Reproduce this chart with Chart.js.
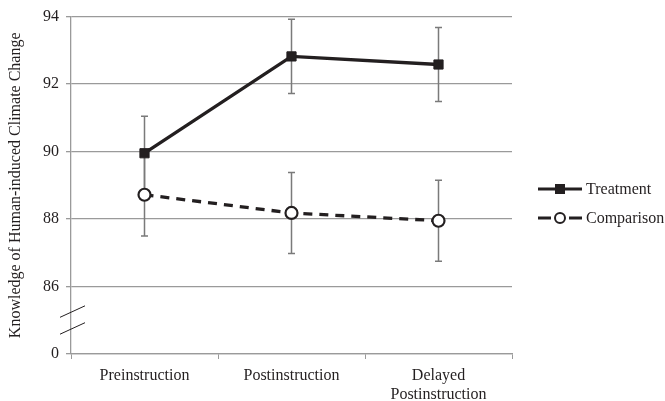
<!DOCTYPE html>
<html>
<head>
<meta charset="utf-8">
<script src="https://cdn.jsdelivr.net/npm/chart.js@4/dist/chart.umd.min.js"></script>
<style>
  html, body { margin: 0; padding: 0; background: #fff; }
  #wrap { width: 665px; height: 401px; }
</style>
</head>
<body>
<div id="wrap"><canvas id="myChart" width="665" height="401"></canvas></div>
<script>
(()=>{
  const categories = ['Preinstruction', 'Postinstruction', ['Delayed', 'Postinstruction']];
  const treatment = [89.95, 92.82, 92.58];
  const treatmentErr = [1.1, 1.1, 1.1];
  const comparison = [88.72, 88.18, 87.95];
  const comparisonErr = [1.22, 1.2, 1.2];
  const yTicks = [84, 86, 88, 90, 92, 94];
  const yTickLabels = ['0', '86', '88', '90', '92', '94'];
  const breakAt = 85;

  const font = "'Liberation Serif', 'Times New Roman', serif";
  const ink = '#231f20';
  const gray = '#9a9a9a';

  // error bars drawn under the markers
  const errorBars = {
    id: 'errorBars',
    beforeDatasetsDraw(chart) {
      const ctx = chart.ctx;
      const x = chart.scales.x, y = chart.scales.y;
      const sets = [[treatment, treatmentErr], [comparison, comparisonErr]];
      ctx.save();
      ctx.strokeStyle = '#7a7a7a';
      ctx.lineWidth = 1.5;
      sets.forEach(([vals, errs]) => {
        vals.forEach((v, i) => {
          const px = x.getPixelForValue(i);
          const top = y.getPixelForValue(v + errs[i]);
          const bot = y.getPixelForValue(v - errs[i]);
          ctx.beginPath();
          ctx.moveTo(px, top); ctx.lineTo(px, bot);
          ctx.moveTo(px - 3.5, top); ctx.lineTo(px + 3.5, top);
          ctx.moveTo(px - 3.5, bot); ctx.lineTo(px + 3.5, bot);
          ctx.stroke();
        });
      });
      ctx.restore();
    }
  };

  // axis break marks and legend
  const extras = {
    id: 'extras',
    afterDraw(chart) {
      const ctx = chart.ctx;
      const y = chart.scales.y;
      const ax = chart.chartArea.left;
      ctx.save();
      ctx.strokeStyle = ink;
      ctx.lineWidth = 1;
      [breakAt + 0.25, breakAt - 0.25].forEach(v => {
        const py = y.getPixelForValue(v);
        ctx.beginPath();
        ctx.moveTo(ax - 11, py + 5.5);
        ctx.lineTo(ax + 14, py - 6);
        ctx.stroke();
      });

      // legend
      const lx = chart.chartArea.right + 26;
      const items = [
        { label: 'Treatment', y: 189, square: true },
        { label: 'Comparison', y: 218, square: false }
      ];
      ctx.font = '16px ' + font;
      ctx.textBaseline = 'middle';
      items.forEach(it => {
        ctx.strokeStyle = ink;
        ctx.lineWidth = 3;
        ctx.beginPath();
        if (it.square) {
          ctx.moveTo(lx, it.y); ctx.lineTo(lx + 44, it.y);
        } else {
          ctx.moveTo(lx, it.y); ctx.lineTo(lx + 13, it.y);
          ctx.moveTo(lx + 31, it.y); ctx.lineTo(lx + 44, it.y);
        }
        ctx.stroke();
        const cx = lx + 22;
        if (it.square) {
          ctx.fillStyle = ink;
          ctx.fillRect(cx - 5, it.y - 5, 10, 10);
        } else {
          ctx.fillStyle = '#fff';
          ctx.lineWidth = 2;
          ctx.beginPath();
          ctx.arc(cx, it.y, 5, 0, Math.PI * 2);
          ctx.fill(); ctx.stroke();
        }
        ctx.fillStyle = ink;
        ctx.textAlign = 'left';
        ctx.fillText(it.label, lx + 48, it.y + 1);
      });
      ctx.restore();
    }
  };

  new Chart(document.getElementById('myChart').getContext('2d'), {
    type: 'line',
    data: {
      labels: categories,
      datasets: [
        {
          label: 'Treatment',
          data: treatment,
          borderColor: ink,
          backgroundColor: ink,
          borderWidth: 3.3,
          pointStyle: 'rect',
          pointRadius: 6.5,
          pointBorderWidth: 1,
          pointBackgroundColor: ink,
          tension: 0
        },
        {
          label: 'Comparison',
          data: comparison,
          borderColor: ink,
          backgroundColor: '#fff',
          borderWidth: 3.3,
          borderDash: [9, 7],
          pointStyle: 'circle',
          pointRadius: 6,
          pointBorderWidth: 2.2,
          pointBackgroundColor: '#fff',
          tension: 0
        }
      ]
    },
    options: {
      responsive: false,
      animation: false,
      layout: { padding: { left: 6, right: 153, top: 7, bottom: 0 } },
      plugins: { legend: { display: false }, tooltip: { enabled: false } },
      scales: {
        x: {
          offset: true,
          grid: { offset: true, drawOnChartArea: false, color: gray, tickLength: 5 },
          border: { color: gray, width: 1.3 },
          ticks: { color: ink, font: { family: font, size: 16 }, padding: 7, maxRotation: 0 },
          afterFit: s => { s.height = 47; }
        },
        y: {
          min: 84,
          max: 94,
          afterBuildTicks: s => { s.ticks = yTicks.map(v => ({ value: v })); },
          grid: { color: gray, lineWidth: 1.3, tickLength: 5 },
          border: { color: gray, width: 1.3 },
          ticks: {
            color: ink,
            font: { family: font, size: 16 },
            padding: 7,
            callback: (v) => yTickLabels[yTicks.indexOf(v)]
          },
          title: {
            display: true,
            text: 'Knowledge of Human-induced Climate Change',
            color: ink,
            font: { family: font, size: 16 },
            padding: { top: 0, bottom: 4 }
          },
          afterFit: s => { s.width = 65; }
        }
      }
    },
    plugins: [errorBars, extras]
  });
})();
</script>
</body>
</html>
